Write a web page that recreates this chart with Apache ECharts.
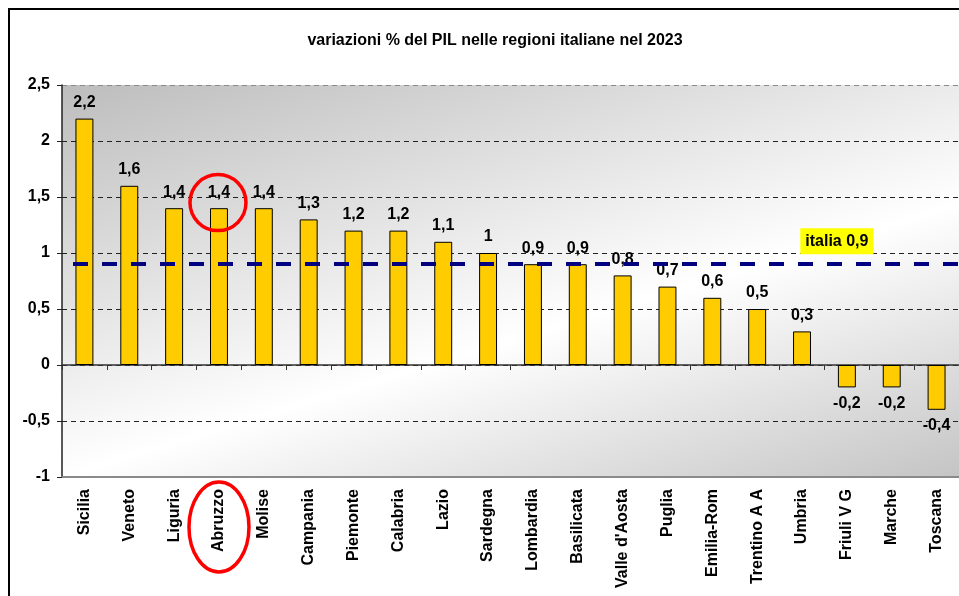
<!DOCTYPE html>
<html lang="it">
<head>
    <meta charset="UTF-8">
    <title>variazioni % del PIL</title>
    <script src="https://cdn.jsdelivr.net/npm/echarts@6/dist/echarts.min.js"></script>
    <style>
        html, body { margin: 0; padding: 0; background: #fff; }
        #chart { width: 959px; height: 596px; }
    </style>
</head>
<body>
<div id="chart"></div>
<script type="text/javascript">
    // dati
    var regioni = ['Sicilia', 'Veneto', 'Liguria', 'Abruzzo', 'Molise', 'Campania', 'Piemonte',
        'Calabria', 'Lazio', 'Sardegna', 'Lombardia', 'Basilicata', "Valle d'Aosta", 'Puglia',
        'Emilia-Rom', 'Trentino A A', 'Umbria', 'Friuli V G', 'Marche', 'Toscana'];
    var variazioni = [2.2, 1.6, 1.4, 1.4, 1.4, 1.3, 1.2, 1.2, 1.1, 1.0, 0.9, 0.9, 0.8, 0.7,
        0.6, 0.5, 0.3, -0.2, -0.2, -0.4];
    var italia = 0.9;
    var yTicks = [-1, -0.5, 0, 0.5, 1, 1.5, 2, 2.5];

    var font = 'Liberation Sans, Arial, sans-serif';
    function virgola(v) { return String(v).replace('.', ','); }

    var barData = variazioni.map(function (v) {
        return { value: v, label: { position: v < 0 ? 'bottom' : 'top' } };
    });

    var myChart = echarts.init(document.getElementById('chart'));

    var option = {
        animation: false,
        backgroundColor: '#ffffff',
        title: {
            text: 'variazioni % del PIL nelle regioni italiane nel 2023',
            left: 490,
            textAlign: 'center',
            top: 28,
            textStyle: { fontFamily: font, fontSize: 16, fontWeight: 'bold', color: '#000' }
        },
        grid: {
            left: 62, top: 85, width: 900, height: 392,
            show: true,
            borderWidth: 0,
            backgroundColor: new echarts.graphic.LinearGradient(0, 0, 0.243, 1.83, [
                { offset: 0, color: '#bdbdbd' },
                { offset: 0.5, color: '#ffffff' },
                { offset: 0.85, color: '#c4c4c4' },
                { offset: 1, color: '#b4b4b4' }
            ])
        },
        xAxis: [{
            type: 'category',
            data: regioni,
            axisLine: { onZero: true, lineStyle: { color: '#333', width: 1.5 } },
            axisTick: { show: true, interval: 0, length: 5, lineStyle: { color: '#333' } },
            axisLabel: { show: false, interval: 0 },
            splitLine: { show: false }
        }, {
            type: 'category',
            data: regioni,
            position: 'bottom',
            axisLine: { onZero: false, lineStyle: { color: '#8a8a8a', width: 2 } },
            axisTick: { show: false },
            axisLabel: {
                rotate: 90, margin: 12, interval: 0,
                fontFamily: font, fontSize: 16, fontWeight: 'bold', color: '#000'
            }
        }],
        yAxis: {
            type: 'value',
            min: yTicks[0],
            max: yTicks[yTicks.length - 1],
            interval: 0.5,
            axisLine: { show: true, lineStyle: { color: '#222', width: 1.5 } },
            axisTick: { show: true, length: 5, lineStyle: { color: '#222' } },
            axisLabel: {
                margin: 12,
                fontFamily: font, fontSize: 16, fontWeight: 'bold', color: '#000',
                formatter: function (v) { return virgola(v); }
            },
            splitLine: {
                show: true,
                lineStyle: {
                    color: ['#8a8a8a', '#222', '#222', '#222', '#222', '#222', '#222', '#8a8a8a'],
                    type: [5, 4],
                    width: 1
                }
            }
        },
        series: [{
            type: 'bar',
            data: barData,
            xAxisIndex: 0,
            barWidth: '40%',
            itemStyle: { color: '#ffcc00', borderColor: '#000', borderWidth: 1 },
            label: {
                show: true,
                distance: 8,
                fontFamily: font, fontSize: 16, fontWeight: 'bold', color: '#000',
                formatter: function (p) { return virgola(p.value); }
            },
            markLine: {
                silent: true,
                symbol: 'none',
                label: { show: false },
                lineStyle: { color: '#000080', width: 4, type: [15, 14], dashOffset: 18 },
                data: [{ yAxis: italia }]
            },
            markPoint: {
                silent: true,
                symbol: 'circle',
                symbolSize: 0,
                data: [{ coord: [17, italia] }],
                label: {
                    show: true,
                    position: 'inside',
                    offset: [-10, -23],
                    formatter: 'italia ' + virgola(italia),
                    backgroundColor: '#ffff00',
                    padding: [5, 5, 5, 5],
                    fontFamily: font, fontSize: 16, fontWeight: 'bold', color: '#000'
                }
            }
        }]
    };

    myChart.setOption(option);

    // cerchi rossi di evidenziazione su Abruzzo
    var pVal = myChart.convertToPixel({ xAxisIndex: 0, yAxisIndex: 0 }, ['Abruzzo', 1.45]);
    var pCat = myChart.convertToPixel({ xAxisIndex: 1, yAxisIndex: 0 }, ['Abruzzo', -1]);
    myChart.setOption({
        graphic: [{
            type: 'rect',
            shape: { x: 9, y: 9, width: 1000, height: 1000 },
            style: { fill: 'none', stroke: '#000', lineWidth: 2 },
            silent: true
        }, {
            type: 'circle',
            shape: { cx: pVal[0] - 1, cy: pVal[1], r: 28 },
            style: { fill: 'none', stroke: '#ff0000', lineWidth: 3.5 },
            silent: true, z: 100
        }, {
            type: 'ellipse',
            shape: { cx: pCat[0], cy: pCat[1] + 50, rx: 30, ry: 45 },
            style: { fill: 'none', stroke: '#ff0000', lineWidth: 3.5 },
            silent: true, z: 100
        }]
    });
</script>
</body>
</html>
